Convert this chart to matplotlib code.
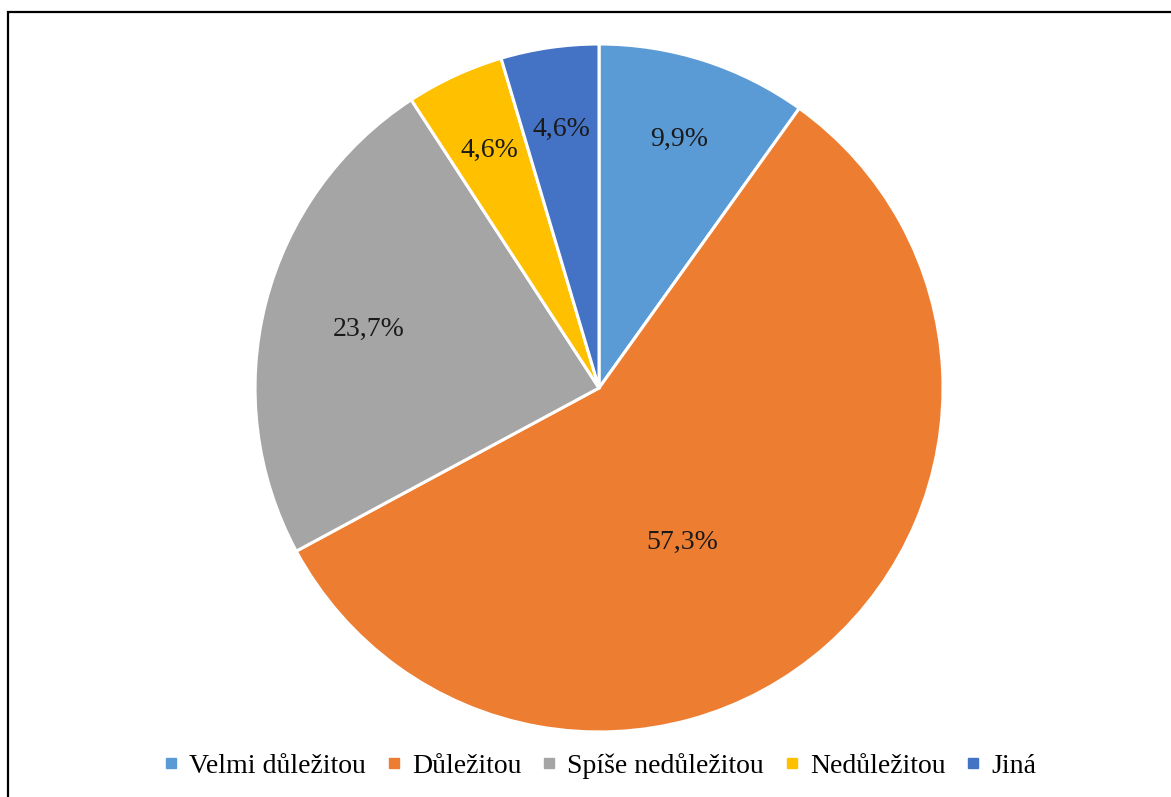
import numpy as np
import matplotlib.pyplot as plt
from matplotlib.lines import Line2D
from matplotlib.patches import Rectangle

plt.rcParams['font.family'] = ['Liberation Serif', 'DejaVu Serif']

categories = ['Velmi důležitou', 'Důležitou', 'Spíše nedůležitou', 'Nedůležitou', 'Jiná']
values = [9.9, 57.3, 23.7, 4.6, 4.6]
colors = ['#5B9BD5', '#ED7D31', '#A5A5A5', '#FFC000', '#4472C4']

fig = plt.figure(figsize=(11.71, 7.97), dpi=100)
ax = fig.add_axes([0.2178, 0.0816, 0.5875, 0.8632])

wedges, texts, autotexts = ax.pie(
    values, colors=colors, startangle=90, counterclock=False,
    autopct=lambda p: '', pctdistance=0.77,
    wedgeprops=dict(edgecolor='white', linewidth=2.2),
    normalize=True)

# value labels placed along each slice's mid-angle
total = sum(values)
start = 90.0
for i, (v, w) in enumerate(zip(values, wedges)):
    mid = start - v / total * 360 / 2
    start -= v / total * 360
    r = 0.76
    if i == 1:
        mid, r = -61.7, 0.51
    elif i == 2:
        r = 0.69
    x, y = r * np.cos(np.radians(mid)), r * np.sin(np.radians(mid))
    autotexts[i].set_text(f'{v:.1f}%'.replace('.', ','))
    autotexts[i].set_position((x, y))
    autotexts[i].set_fontsize(20)
    autotexts[i].set_color('#1a1a1a')

ax.set_xlim(-1, 1)
ax.set_ylim(-1, 1)
ax.set_aspect('equal')

handles = [Line2D([], [], marker='s', linestyle='none', markersize=7,
                  markerfacecolor=c, markeredgecolor=c) for c in colors]
fig.legend(handles, categories, loc='center', bbox_to_anchor=(0.512, 0.039),
           ncol=5, frameon=False, fontsize=20, handlelength=0.6,
           handletextpad=0.35, columnspacing=0.7)

# frame around the chart area
fig.patches.append(Rectangle((8 / 1171, -0.05), 1.1, 1.05 - 12 / 797,
                             transform=fig.transFigure, fill=False,
                             edgecolor='black', linewidth=1.6))

fig.savefig('out.png', dpi=100, facecolor='white')
